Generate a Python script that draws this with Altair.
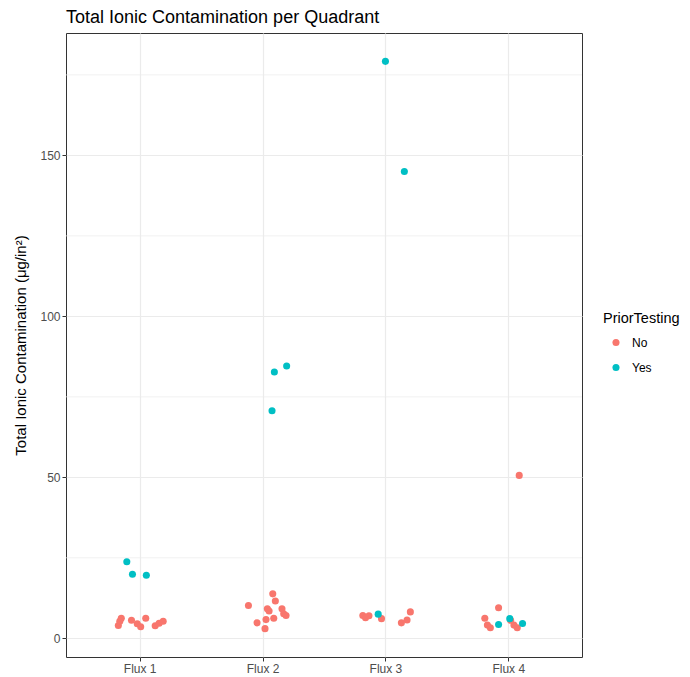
import altair as alt
import pandas as pd

categories = ["Flux 1", "Flux 2", "Flux 3", "Flux 4"]

# per point: category index (1-4), horizontal jitter (category units), value, group
flux_idx = [1]*13 + [2]*15 + [3]*10 + [4]*11
jitter = [
    -0.174, -0.162, -0.150, -0.067, -0.020, 0.008, 0.049, 0.126, 0.158, 0.191,
    -0.105, -0.059, 0.054,
    -0.115, 0.083, 0.104, 0.039, 0.053, 0.158, 0.172, 0.191, 0.091, 0.028, -0.045, 0.020,
    0.096, 0.196, 0.077,
    -0.184, -0.162, -0.134, -0.032, 0.130, 0.176, 0.203,
    -0.059, 0.000, 0.154,
    -0.079, -0.191, -0.170, -0.146, 0.019, 0.046, 0.073, 0.089,
    -0.079, 0.012, 0.116,
]
contamination = [
    4.0, 5.3, 6.2, 5.6, 4.5, 3.6, 6.2, 3.9, 4.7, 5.3,
    23.8, 19.9, 19.6,
    10.2, 13.8, 11.6, 9.2, 8.5, 9.2, 7.6, 7.1, 6.2, 5.8, 4.8, 3.0,
    82.7, 84.6, 70.7,
    7.1, 6.4, 7.0, 6.1, 4.8, 5.7, 8.2,
    7.5, 179.2, 145.0,
    9.5, 6.2, 4.1, 3.3, 5.6, 4.1, 3.3, 50.6,
    4.3, 6.1, 4.6,
]
prior_testing = (
    ["No"]*10 + ["Yes"]*3 +
    ["No"]*12 + ["Yes"]*3 +
    ["No"]*7 + ["Yes"]*3 +
    ["No"]*8 + ["Yes"]*3
)

major_y = [0, 50, 100, 150]
minor_y = [25, 75, 125, 175]

df = pd.DataFrame({
    "idx": flux_idx,
    "jit": jitter,
    "value": contamination,
    "PriorTesting": prior_testing,
})

vmin, vmax = min(contamination), max(contamination)
pad = 0.05 * (vmax - vmin)
ydom = [vmin - pad, vmax + pad]

FONT = "Liberation Sans"
YTITLE = "Total Ionic Contamination (\u03bcg/in\u00b2)"

yscale = alt.Scale(domain=ydom, nice=False, zero=False)
xscale = alt.Scale(domain=[0.4, 4.6], nice=False, zero=False)

yaxis = alt.Axis(values=major_y, grid=True, gridColor="#EBEBEB", gridWidth=1.2,
                 domain=False, tickColor="#333333", tickSize=4,
                 labelColor="#4D4D4D", labelFontSize=12, labelFont=FONT,
                 labelPadding=2, titleFont=FONT, titleFontSize=15,
                 titleFontWeight="normal", titleColor="black",
                 titlePadding=11)

minor = alt.Chart(pd.DataFrame({"y": minor_y})).mark_rule(
    color="#EBEBEB", strokeWidth=0.7
).encode(y=alt.Y("y:Q", scale=yscale, title=YTITLE, axis=yaxis))

label_expr = "'Flux ' + datum.value"

points = alt.Chart(df).transform_calculate(
    xpos="datum.idx + datum.jit"
).mark_circle(size=50, opacity=1).encode(
    x=alt.X("xpos:Q", scale=xscale, title=None,
            axis=alt.Axis(values=[1, 2, 3, 4], labelExpr=label_expr,
                          grid=True, gridColor="#EBEBEB", gridWidth=1.2,
                          domain=False, tickColor="#333333", tickSize=4,
                          labelColor="#4D4D4D", labelFontSize=12, labelFont=FONT,
                          labelPadding=2)),
    y=alt.Y("value:Q", scale=yscale, title=YTITLE, axis=yaxis),
    color=alt.Color("PriorTesting:N",
                    scale=alt.Scale(domain=["No", "Yes"], range=["#F8766D", "#00BFC4"]),
                    legend=alt.Legend(orient="none", legendX=537, legendY=279,
                                      title="PriorTesting", titleFont=FONT,
                                      titleFontSize=14.5, titleFontWeight="normal",
                                      titleColor="black", titlePadding=10,
                                      labelFont=FONT, labelFontSize=12, labelColor="black",
                                      symbolType="circle", symbolSize=50,
                                      symbolOffset=7, labelOffset=10, rowPadding=13)),
)

chart = alt.layer(minor, points).properties(
    width=516, height=624,
    title=alt.Title("Total Ionic Contamination per Quadrant", anchor="start",
                    frame="group",
                    font=FONT, fontSize=18, fontWeight="normal", color="black",
                    offset=6),
    autosize=alt.AutoSizeParams(type="none"),
    padding={"left": 58, "top": 25, "right": 100, "bottom": 20},
).configure_view(stroke="#333333", strokeWidth=1)

chart.save("out.html", embed_options={"renderer": "svg", "actions": False})
